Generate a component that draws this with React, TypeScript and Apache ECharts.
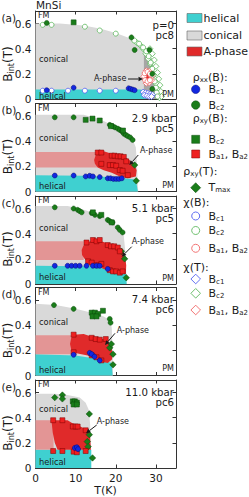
import React, { useEffect, useRef } from 'react';
import * as echarts from 'echarts';

const FONT = 'DejaVu Sans';
const INK = '#1a1a1a';
const CYAN = '#3fd0d0';
const GREY = '#d9d9d9';
const DGREY = '#a6a6a6';
const RED = '#e02a2a';
const PINK = '#e39595';
const BLUE = '#1228e0';
const BLUE_E = '#08086e';
const GREEN = '#1a7d1a';
const GREEN_E = '#0a4a0a';
const REDM = '#ee2020';
const REDM_E = '#7a0000';
const OBLUE = '#5060f0';
const OGREEN = '#5cb85c';
const ORED = '#f06464';

// ---------- labels ----------
const panelTags = ['(a)', '(b)', '(c)', '(d)', '(e)'];
const pressures = ['p=0', '2.9 kbar', '5.1 kbar', '7.4 kbar', '11.0 kbar'];
const samples = ['pc8', 'pc5', 'pc5', 'pc6', 'pc6'];
const xTickLabels = [0, 10, 20, 30];
const yTickLabels = [0, 0.2, 0.4, 0.6];

// ---------- panel (a) p = 0 ----------
const conicalA = [[0, 0], [0, 0.6], [6, 0.6], [12, 0.585], [16, 0.56], [20, 0.525], [23, 0.49], [25.5, 0.45], [27, 0.42], [28, 0.38], [28.8, 0.31], [29.3, 0.21], [29.6, 0.11], [29.8, 0]];
const darkA = [[27, 0.42], [28, 0.39], [28.8, 0.33], [29.6, 0.22], [30.2, 0.12], [30.6, 0.04], [30.8, 0], [27, 0]];
const helicalA = [[0, 0], [0, 0.075], [26, 0.075], [27.2, 0.07], [27.5, 0]];
const apA = [[26.8, 0.17], [27.1, 0.21], [27.8, 0.23], [28.6, 0.22], [29, 0.17], [28.7, 0.13], [27.8, 0.12], [27.1, 0.135]];
const chiBc2A = [[1.8, 0.59], [4, 0.59], [12.3, 0.575], [16, 0.545], [20, 0.52], [24.6, 0.465], [25.8, 0.44], [26.8, 0.41], [27.6, 0.38], [28.2, 0.34], [28.7, 0.29], [29.1, 0.24], [29.4, 0.19], [29.7, 0.14], [30, 0.09], [30.2, 0.05], [30.4, 0.02]];
const chiTBc2A = [[25.2, 0.45], [26, 0.43], [26.8, 0.4], [27.5, 0.36], [28.1, 0.32], [28.6, 0.28], [29, 0.24], [29.4, 0.2], [29.8, 0.16], [30.1, 0.12], [30.4, 0.08], [30.7, 0.04], [30.9, 0.01], [28.5, 0.4], [29.1, 0.36], [29.6, 0.31], [30, 0.26], [30.4, 0.21], [30.7, 0.16], [31, 0.11], [31.2, 0.06], [31.4, 0.02]];
const rxxBc2A = [[2.8, 0.605], [23.9, 0.49], [24.7, 0.39], [28.4, 0.39], [29.1, 0.2], [29.1, 0.08]];
const rxyBc2A = [[9.5, 0.61]];
const rxxBc1A = [[2.8, 0.07], [9.5, 0.09], [23.2, 0.085], [23.7, 0.08], [24.2, 0.075], [24.7, 0.07]];
const chiBc1A = [[1.8, 0.066], [4, 0.066], [8.1, 0.066], [12.3, 0.066], [16, 0.066], [20, 0.066]];
const chiTBc1A = [[26.8, 0.055], [27.4, 0.05], [28, 0.045], [28.6, 0.04], [29.1, 0.035], [27.1, 0.03], [27.7, 0.025], [28.3, 0.02], [28.9, 0.02]];
const chiBaA = [[27.2, 0.205], [27.9, 0.215], [28.5, 0.2], [27.3, 0.15], [27.9, 0.14], [28.5, 0.15]];
const chiTBaA = [[27, 0.18], [27.6, 0.225], [28.3, 0.22], [28.9, 0.18], [27.6, 0.125], [28.3, 0.13], [28.9, 0.15]];

// ---------- panel (b) 2.9 kbar ----------
const conicalB = [[0, 0], [0, 0.61], [12, 0.61], [16, 0.575], [19, 0.53], [22, 0.48], [24, 0.43], [25, 0.35], [25.3, 0.2], [25.5, 0.05], [25.6, 0]];
const helicalB = [[0, 0], [0, 0.13], [12, 0.125], [18, 0.115], [22, 0.105], [25, 0.095], [25.5, 0]];
const pinkB = [[0, 0.19], [0, 0.315], [15.5, 0.315], [15.5, 0.19]];
const apB = [[14.6, 0.25], [15, 0.29], [15.8, 0.315], [17, 0.32], [19, 0.3], [21, 0.29], [23, 0.26], [24.5, 0.22], [25.2, 0.17], [25, 0.12], [23, 0.105], [21, 0.12], [19, 0.15], [17, 0.17], [15.5, 0.19], [14.8, 0.22]];
const rxxBc2B = [[4.8, 0.59], [9.5, 0.59], [18.5, 0.53], [19.2, 0.52], [19.8, 0.51], [20.5, 0.5], [21, 0.49], [21.5, 0.48], [22, 0.46], [22.5, 0.45], [23, 0.44], [23.6, 0.43], [24.2, 0.41]];
const rxyBc2B = [[12.5, 0.57], [14.2, 0.58], [16, 0.565], [18.8, 0.52], [21.8, 0.485]];
const tmaxB = [[24.7, 0.21], [25.1, 0.085]];
const rxyBaB = [[15.5, 0.31], [16.4, 0.31], [19, 0.285], [19.7, 0.285], [20.5, 0.28], [21.2, 0.28], [22, 0.275], [22.6, 0.24], [16.4, 0.22], [18.5, 0.21], [19.3, 0.21], [20.1, 0.205], [21, 0.17], [21.7, 0.165], [23, 0.13]];
const rxxBc1B = [[4.8, 0.127], [9.5, 0.127], [12.5, 0.12], [13.5, 0.125], [14.3, 0.12], [16, 0.115], [18, 0.105], [18.7, 0.105], [19.4, 0.1], [20.1, 0.1], [20.8, 0.1], [21.5, 0.105]];

// ---------- panel (c) 5.1 kbar ----------
const conicalC = [[0, 0], [0, 0.62], [8, 0.62], [11, 0.6], [14, 0.57], [17, 0.53], [19.5, 0.48], [21, 0.44], [22, 0.38], [22.4, 0.25], [22.6, 0.1], [22.7, 0]];
const helicalC = [[0, 0], [0, 0.145], [17, 0.14], [20, 0.12], [22.5, 0.1], [22.7, 0]];
const pinkC = [[0, 0.19], [0, 0.34], [12, 0.34], [12, 0.19]];
const apC = [[11.5, 0.27], [12, 0.31], [13, 0.335], [15, 0.35], [17, 0.335], [18.5, 0.315], [20.5, 0.295], [21.5, 0.27], [22.3, 0.22], [22.6, 0.15], [22.5, 0.08], [21, 0.085], [19, 0.1], [17, 0.12], [15, 0.15], [13.5, 0.17], [12.2, 0.2], [11.6, 0.23]];
const rxxBc2C = [[4.8, 0.61], [9.5, 0.6], [10.5, 0.59], [11, 0.58], [11.5, 0.57], [14, 0.565], [14.8, 0.55], [16, 0.54], [18, 0.51], [18.5, 0.5], [19.2, 0.49], [20.5, 0.45], [21, 0.43], [21.7, 0.41]];
const rxyBc2C = [[14.3, 0.57], [16.4, 0.55], [19, 0.49]];
const tmaxC = [[21.4, 0.26], [22.2, 0.2], [22.6, 0.05]];
const rxyBaC = [[12.7, 0.33], [14.3, 0.35], [15.2, 0.34], [16, 0.35], [18, 0.31], [18.8, 0.3], [19.6, 0.3], [20.5, 0.29], [21, 0.26], [13.1, 0.18], [14, 0.17], [15.2, 0.15], [16.4, 0.16], [18.5, 0.11], [19.3, 0.1], [20.1, 0.1], [21, 0.09], [21.7, 0.1]];
const rxxBc1C = [[4.8, 0.145], [8, 0.145], [9, 0.145], [10, 0.145], [11, 0.145], [12.7, 0.145], [14.3, 0.145], [15.2, 0.145], [16, 0.145], [18, 0.12]];

// ---------- panel (d) 7.4 kbar ----------
const conicalD = [[0, 0], [0, 0.57], [5, 0.56], [10, 0.53], [14, 0.5], [17, 0.47], [18.5, 0.44], [19, 0.38], [19.2, 0.2], [19.3, 0.05], [19.3, 0]];
const helicalD = [[0, 0], [0, 0.17], [10, 0.16], [14, 0.14], [17, 0.12], [19, 0.1], [19.2, 0]];
const pinkD = [[0, 0.17], [0, 0.32], [9, 0.32], [9, 0.17]];
const apD = [[8.6, 0.25], [8.9, 0.3], [9.5, 0.325], [12, 0.33], [13.5, 0.315], [15.5, 0.3], [17.5, 0.285], [18.6, 0.25], [19.1, 0.2], [19.1, 0.13], [18, 0.1], [16.5, 0.11], [15, 0.13], [13, 0.16], [10.5, 0.175], [9, 0.19]];
const rxxBc2D = [[4.6, 0.56], [9.5, 0.53], [18.5, 0.45], [18.7, 0.42]];
const rxyBc2D = [[14, 0.5], [14.8, 0.5], [15.6, 0.49], [14.2, 0.47], [15.2, 0.47], [16.8, 0.515]];
const tmaxD = [[18.5, 0.22], [18.9, 0.25], [19.3, 0.17], [19.3, 0.085]];
const rxyBaD = [[9.5, 0.325], [14, 0.3], [15, 0.29], [16, 0.285], [17.5, 0.29], [9.5, 0.185], [14, 0.16], [15.2, 0.145], [16.4, 0.12]];
const rxxBc1D = [[9.5, 0.165], [13.5, 0.18], [14, 0.17], [14.7, 0.15], [16, 0.12]];

// ---------- panel (e) 11.0 kbar ----------
const conicalE = [[0, 0], [0, 0.59], [5, 0.59], [8, 0.58], [11, 0.56], [12.5, 0.52], [13.3, 0.46], [13.6, 0.35], [13.8, 0.15], [13.8, 0]];
const helicalE = [[0, 0], [0, 0.146], [13.9, 0.146], [13.9, 0]];
const pinkE = [[0, 0.146], [0, 0.38], [4.5, 0.38], [4.5, 0.146]];
const apE = [[4, 0.38], [8, 0.38], [9, 0.36], [10.5, 0.34], [12.5, 0.31], [13.5, 0.29], [13.7, 0.2], [13.8, 0.146], [5.5, 0.146], [4.8, 0.2], [4.3, 0.28], [4.1, 0.34]];
const tmaxE = [[4.8, 0.56], [6.7, 0.58], [6.7, 0.55], [13.4, 0.43], [13.4, 0.265], [12.9, 0.21], [13.1, 0.17], [14.2, 0.08]];
const rxyBc2E = [[9.3, 0.53], [9.8, 0.53], [10.3, 0.52], [9.5, 0.505], [10.3, 0.505]];
const rxyBaE = [[4.4, 0.38], [6.7, 0.38], [9.3, 0.33], [10, 0.33], [10.5, 0.33], [12.5, 0.3], [4.4, 0.135], [6.7, 0.135], [9.5, 0.13], [10.3, 0.125], [12.5, 0.135]];
const rxxBc1E = [[9.8, 0.16], [10.3, 0.165], [10.6, 0.15]];

// ---------- layout ----------
const TOPS = [11, 103.5, 196, 287.5, 380];
const PH = 88;
const PL = 35.5;
const PW = 140.5;

const pressY = [[25, 35], [118, 128], [208, 218], [299.5, 309.5], [392.5, 402.5]];
const conicalY = [59, 138.3, 228.3, 321.7, 409.3];
const helicalY = [95.5, 185.7, 277.3, 370, 461.7];
const aphasePos = [[94, 78], [140, 150], [131.7, 241.7], [116.7, 330], [96.7, 421.7]];
const arrows = [[128, 79, 143, 79], [138.3, 155, 129.3, 165], [131.7, 246.7, 121.7, 256.7], [115, 333.3, 105, 345], [96.7, 425, 86, 433.3]];
const pmY = [94, 185.5, 278.3, 368.3];

function region(gi: number, pts: number[][], fill: string, z: number) {
  return {
    type: 'custom', xAxisIndex: 2 * gi, yAxisIndex: 2 * gi, data: [[0, 0]], z, silent: true,
    renderItem: (_p: any, api: any) => ({
      type: 'polygon',
      shape: { points: pts.map((p) => api.coord(p)) },
      style: { fill },
    }),
  };
}

function scat(gi: number, data: number[][], symbol: string, size: number, fill: string, edge: string, bw: number, z: number) {
  return {
    type: 'scatter', xAxisIndex: 2 * gi, yAxisIndex: 2 * gi, data, symbol, symbolSize: size, z, silent: true,
    itemStyle: { color: fill, borderColor: edge, borderWidth: bw, opacity: 1 },
  };
}

const sub = (m: number, s: number, extra = 3) => ({
  m: { fontSize: m, fontFamily: FONT, fill: INK, lineHeight: m + extra },
  s: { fontSize: s, fontFamily: FONT, fill: INK, lineHeight: 4, verticalAlign: 'bottom' },
});

function txt(x: number, y: number, text: string, size: number, align = 'left', extra: any = {}) {
  return {
    type: 'text', x, y, z: 60, silent: true, rotation: extra.rotation || 0,
    style: { text, fontSize: size, fontFamily: FONT, fill: INK, align, verticalAlign: 'middle', rich: extra.rich },
  };
}

function arrow(x1: number, y1: number, x2: number, y2: number) {
  const dx = x2 - x1, dy = y2 - y1;
  const L = Math.sqrt(dx * dx + dy * dy);
  const ux = dx / L, uy = dy / L;
  const hl = 4.5, hw = 2.2;
  const bx = x2 - ux * hl, by = y2 - uy * hl;
  return [
    { type: 'line', z: 60, silent: true, shape: { x1, y1, x2: bx, y2: by }, style: { stroke: INK, lineWidth: 1 } },
    { type: 'polygon', z: 60, silent: true, shape: { points: [[x2, y2], [bx - uy * hw, by + ux * hw], [bx + uy * hw, by - ux * hw]] }, style: { fill: INK } },
  ];
}

export default function App() {
  const ref = useRef<HTMLDivElement>(null);
  useEffect(() => {
    if (!ref.current) return;
    const chart = echarts.init(ref.current, null, { renderer: 'svg' });

    const grids: any[] = [];
    const xAxes: any[] = [];
    const yAxes: any[] = [];
    for (let i = 0; i < 5; i++) {
      grids.push({ left: PL, top: TOPS[i], width: PW, height: PH, show: false });
      const xBase = {
        gridIndex: i, type: 'value', min: 0, max: 35, interval: 10,
        axisLine: { show: true, onZero: false, lineStyle: { color: '#333', width: 1 } },
        axisTick: { show: true, inside: true, length: 3.5, lineStyle: { color: '#333', width: 1 } },
        splitLine: { show: false },
      };
      xAxes.push({
        ...xBase, position: 'bottom',
        axisLabel: {
          show: i === 4, fontSize: 10.5, fontFamily: FONT, color: INK, margin: 4,
          formatter: (v: number) => (xTickLabels.indexOf(v) >= 0 ? String(v) : ''),
        },
      });
      xAxes.push({ ...xBase, position: 'top', axisLabel: { show: false } });
      const yBase = {
        gridIndex: i, type: 'value', min: 0, max: 0.7, interval: 0.2,
        axisLine: { show: true, onZero: false, lineStyle: { color: '#333', width: 1 } },
        axisTick: { show: true, inside: true, length: 3.5, lineStyle: { color: '#333', width: 1 } },
        splitLine: { show: false },
      };
      yAxes.push({
        ...yBase, position: 'left',
        axisLabel: {
          show: true, fontSize: 10.5, fontFamily: FONT, color: INK, margin: 4,
          formatter: (v: number) => {
            const hit = yTickLabels.find((t) => Math.abs(t - v) < 1e-6);
            if (hit === undefined) return '';
            return hit === 0 ? '0' : hit.toFixed(1);
          },
        },
      });
      yAxes.push({ ...yBase, position: 'right', axisLabel: { show: false } });
    }

    const series: any[] = [];
    series.push(region(0, conicalA, GREY, 1), region(0, darkA, DGREY, 1), region(0, helicalA, CYAN, 1), region(0, apA, RED, 1));
    series.push(region(1, conicalB, GREY, 1), region(1, helicalB, CYAN, 1), region(1, pinkB, PINK, 1), region(1, apB, RED, 1));
    series.push(region(2, conicalC, GREY, 1), region(2, helicalC, CYAN, 1), region(2, pinkC, PINK, 1), region(2, apC, RED, 1));
    series.push(region(3, conicalD, GREY, 1), region(3, helicalD, CYAN, 1), region(3, pinkD, PINK, 1), region(3, apD, RED, 1));
    series.push(region(4, conicalE, GREY, 1), region(4, helicalE, CYAN, 1), region(4, pinkE, PINK, 1), region(4, apE, RED, 1));

    series.push(
      scat(0, chiTBc2A, 'diamond', 6, '#ffffff', OGREEN, 0.8, 3),
      scat(0, chiBc2A, 'circle', 5, '#ffffff', OGREEN, 0.8, 3),
      scat(0, chiTBc1A, 'diamond', 6, '#ffffff', OBLUE, 0.8, 3),
      scat(0, chiBc1A, 'circle', 5, '#ffffff', OBLUE, 0.8, 3),
      scat(0, chiTBaA, 'diamond', 6, '#ffffff', ORED, 0.8, 3),
      scat(0, chiBaA, 'circle', 5, '#ffffff', ORED, 0.8, 3),
      scat(0, rxxBc2A, 'circle', 5, GREEN, GREEN_E, 0.5, 4),
      scat(0, rxyBc2A, 'rect', 5, GREEN, GREEN_E, 0.5, 4),
      scat(0, rxxBc1A, 'circle', 5, BLUE, BLUE_E, 0.5, 4),
    );
    const fills: [number, number[][], number[][], number[][], number[][], number[][]][] = [
      [1, rxxBc2B, rxyBc2B, tmaxB, rxyBaB, rxxBc1B],
      [2, rxxBc2C, rxyBc2C, tmaxC, rxyBaC, rxxBc1C],
      [3, rxxBc2D, rxyBc2D, tmaxD, rxyBaD, rxxBc1D],
      [4, [], rxyBc2E, tmaxE, rxyBaE, rxxBc1E],
    ];
    fills.forEach(([gi, c2, sq, tm, ba, c1]) => {
      series.push(
        scat(gi, c2, 'circle', 5, GREEN, GREEN_E, 0.5, 4),
        scat(gi, sq, 'rect', 5, GREEN, GREEN_E, 0.5, 4),
        scat(gi, tm, 'diamond', 6.5, GREEN, GREEN_E, 0.5, 4),
        scat(gi, ba, 'rect', 5, REDM, REDM_E, 0.5, 4),
        scat(gi, c1, 'circle', 5, BLUE, BLUE_E, 0.5, 4),
      );
    });

    // ---------- graphics ----------
    const g: any[] = [];
    g.push(txt(36, 4.5, 'MnSi', 10.5));
    for (let i = 0; i < 5; i++) {
      const top = TOPS[i];
      g.push(txt(1.5, top + 6.5, panelTags[i], 10.5));
      g.push(txt(38, top + 4.8, 'FM', 8));
      g.push(txt(174, pressY[i][0], pressures[i], 10.2, 'right'));
      g.push(txt(174, pressY[i][1], samples[i], 10.2, 'right'));
      g.push(txt(39, conicalY[i], 'conical', 8.3));
      g.push(txt(39, helicalY[i], 'helical', 8.3));
      g.push(txt(aphasePos[i][0], aphasePos[i][1], 'A-phase', 8));
      const a = arrows[i];
      g.push(...arrow(a[0], a[1], a[2], a[3]));
      if (i < 4) g.push(txt(174, pmY[i], 'PM', 8, 'right'));
      g.push(txt(8, top + 53, '{m|B}{s|int}{m|(T)}', 12, 'center', { rotation: Math.PI / 2, rich: sub(12, 8) }));
    }
    g.push(txt(105.5, 490, 'T(K)', 11, 'center'));

    // legend
    const LX = 187;
    g.push({ type: 'rect', z: 60, silent: true, shape: { x: LX, y: 13.5, width: 15, height: 9 }, style: { fill: CYAN, stroke: '#666', lineWidth: 0.6 } });
    g.push(txt(203.5, 18, 'helical', 11));
    g.push({ type: 'rect', z: 60, silent: true, shape: { x: LX, y: 31, width: 15, height: 9 }, style: { fill: GREY, stroke: '#666', lineWidth: 0.6 } });
    g.push(txt(203.5, 35.5, 'conical', 11));
    g.push({ type: 'rect', z: 60, silent: true, shape: { x: LX, y: 47, width: 15, height: 9 }, style: { fill: RED, stroke: '#666', lineWidth: 0.6 } });
    g.push(txt(203.5, 51.5, 'A-phase', 11));

    const MX = 195.7;
    const BX = 208.5;
    const rich = sub(11, 7, 1);
    const bc1 = '{m|B}{s|c1}';
    const bc2 = '{m|B}{s|c2}';
    const ba = '{m|B}{s|a1}{m|, B}{s|a2}';
    g.push(txt(192.7, 77.5, '{m|ρ}{s|xx}{m|(B):}', 11, 'left', { rich }));
    g.push({ type: 'circle', z: 60, silent: true, shape: { cx: MX, cy: 89.3, r: 4.2 }, style: { fill: BLUE, stroke: BLUE_E, lineWidth: 0.5 } });
    g.push(txt(BX, 89.8, bc1, 11, 'left', { rich }));
    g.push({ type: 'circle', z: 60, silent: true, shape: { cx: MX, cy: 105, r: 4.2 }, style: { fill: GREEN, stroke: GREEN_E, lineWidth: 0.5 } });
    g.push(txt(BX, 105, bc2, 11, 'left', { rich }));
    g.push(txt(192.7, 118.5, '{m|ρ}{s|xy}{m|(B):}', 11, 'left', { rich }));
    g.push({ type: 'rect', z: 60, silent: true, shape: { x: MX - 4, y: 135.3, width: 8, height: 8 }, style: { fill: GREEN, stroke: GREEN_E, lineWidth: 0.5 } });
    g.push(txt(BX, 139.3, bc2, 11, 'left', { rich }));
    g.push({ type: 'rect', z: 60, silent: true, shape: { x: MX - 4, y: 150, width: 8, height: 8 }, style: { fill: REDM, stroke: REDM_E, lineWidth: 0.5 } });
    g.push(txt(BX, 154, ba, 11, 'left', { rich }));
    g.push(txt(183.3, 171.7, '{m|ρ}{s|xy}{m|(T):}', 11, 'left', { rich }));
    g.push({ type: 'polygon', z: 60, silent: true, shape: { points: [[MX, 182.7], [MX + 5, 187.7], [MX, 192.7], [MX - 5, 187.7]] }, style: { fill: GREEN, stroke: GREEN_E, lineWidth: 0.5 } });
    g.push(txt(BX, 187.7, '{m|T}{s|max}', 11, 'left', { rich }));
    g.push(txt(183.3, 202.7, 'χ(B):', 11));
    const openC = (cy: number, col: string) => ({ type: 'circle', z: 60, silent: true, shape: { cx: MX, cy, r: 4 }, style: { fill: '#fff', stroke: col, lineWidth: 0.9 } });
    const openD = (cy: number, col: string) => ({ type: 'polygon', z: 60, silent: true, shape: { points: [[MX, cy - 4.8], [MX + 4.8, cy], [MX, cy + 4.8], [MX - 4.8, cy]] }, style: { fill: '#fff', stroke: col, lineWidth: 0.9 } });
    g.push(openC(216, OBLUE), txt(BX, 216, bc1, 11, 'left', { rich }));
    g.push(openC(230.5, OGREEN), txt(BX, 230.5, bc2, 11, 'left', { rich }));
    g.push(openC(248.3, ORED), txt(BX, 248.3, ba, 11, 'left', { rich }));
    g.push(txt(183.3, 267.3, 'χ(T):', 11));
    g.push(openD(279, OBLUE), txt(BX, 279, bc1, 11, 'left', { rich }));
    g.push(openD(293.3, OGREEN), txt(BX, 293.3, bc2, 11, 'left', { rich }));
    g.push(openD(310, ORED), txt(BX, 310, ba, 11, 'left', { rich }));

    chart.setOption({
      animation: false,
      backgroundColor: '#ffffff',
      textStyle: { fontFamily: FONT },
      grid: grids,
      xAxis: xAxes,
      yAxis: yAxes,
      series,
      graphic: { elements: g },
    });
    return () => chart.dispose();
  }, []);
  return <div ref={ref} style={{ width: 249, height: 497, position: 'absolute', left: 0, top: 0 }} />;
}
